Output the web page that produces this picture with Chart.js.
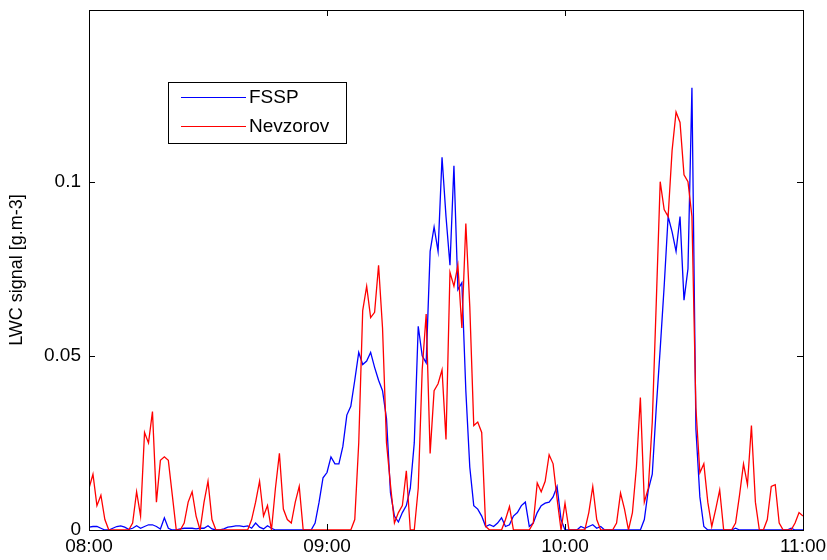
<!DOCTYPE html>
<html lang="en">
<head>
<meta charset="UTF-8">
<script src="https://cdn.jsdelivr.net/npm/chart.js"></script>
<title>LWC signal</title>
<style>
  html, body { margin: 0; padding: 0; background: #fff; }
  #wrap { width: 827px; height: 560px; }
</style>
</head>
<body>
<div id="wrap"><canvas id="myChart" width="827" height="560"></canvas></div>
<script>
// one sample per minute, from 08:00 (t = 0) to 11:00 (t = 180)
const fssp = [
  0.0008, 0.001, 0.001, 0.0005, 0, 0, 0.0005, 0.001, 0.0012, 0.0008,
  0.0002, 0.0005, 0.0012, 0.0005, 0.001, 0.0015, 0.0015, 0.001, 0.0003, 0.0035,
  0.0005, 0, 0, 0.0003, 0.0005, 0.0005, 0.0005, 0.0003, 0.0005, 0.0005,
  0.0012, 0.0003, 0, 0, 0.0003, 0.0008, 0.001, 0.0012, 0.0012, 0.001,
  0.0012, 0.0005, 0.002, 0.0008, 0.0003, 0.0012, 0.0005, 0, 0, 0,
  0, 0, 0, 0, 0, 0, 0, 0.002, 0.008, 0.015,
  0.0165, 0.021, 0.019, 0.019, 0.024, 0.033, 0.0355, 0.043, 0.051, 0.0475,
  0.0485, 0.051, 0.0467, 0.043, 0.04, 0.032, 0.0107, 0.004, 0.0023, 0.005,
  0.007, 0.012, 0.025, 0.0585, 0.05, 0.048, 0.08, 0.087, 0.08, 0.107,
  0.09, 0.076, 0.1046, 0.069, 0.071, 0.04, 0.018, 0.007, 0.006, 0.004,
  0.001, 0.0015, 0.001, 0.002, 0.0035, 0.001, 0.0015, 0.004, 0.005, 0.007,
  0.008, 0.001, 0.002, 0.005, 0.007, 0.0077, 0.008, 0.0095, 0.0125, 0.003,
  0, 0, 0, 0, 0.001, 0.0005, 0.001, 0.0015, 0.0005, 0.001,
  0, 0, 0, 0, 0, 0, 0, 0, 0, 0,
  0.003, 0.0115, 0.016, 0.035, 0.052, 0.07, 0.09, 0.0856, 0.08, 0.09,
  0.066, 0.075, 0.127, 0.029, 0.0095, 0.001, 0, 0, 0, 0,
  0, 0, 0, 0.0005, 0, 0, 0, 0, 0, 0,
  0, 0, 0, 0, 0, 0, 0, 0.0005, 0, 0,
  0
];
const nevzorov = [
  0.012, 0.016, 0.007, 0.01, 0.003, 0, 0, 0, 0, 0,
  0, 0.002, 0.011, 0.004, 0.028, 0.025, 0.034, 0.008, 0.02, 0.021,
  0.02, 0.01, 0, 0, 0.002, 0.008, 0.011, 0.004, 0, 0.008,
  0.014, 0.003, 0, 0, 0, 0, 0, 0, 0, 0,
  0, 0.003, 0.008, 0.014, 0.004, 0.007, 0, 0.012, 0.022, 0.006,
  0.003, 0.002, 0.008, 0.0125, 0, 0, 0, 0, 0, 0,
  0, 0, 0, 0, 0, 0, 0, 0.003, 0.025, 0.063,
  0.07, 0.061, 0.0625, 0.076, 0.058, 0.025, 0.013, 0.002, 0.005, 0.007,
  0.017, 0, 0, 0.012, 0.046, 0.062, 0.022, 0.04, 0.042, 0.046,
  0.026, 0.074, 0.07, 0.076, 0.058, 0.088, 0.064, 0.03, 0.031, 0.028,
  0.001, 0, 0, 0, 0, 0.003, 0.0067, 0, 0, 0,
  0, 0, 0.002, 0.0135, 0.011, 0.014, 0.0216, 0.019, 0.009, 0,
  0.0077, 0, 0, 0, 0, 0, 0.005, 0.0125, 0.003, 0,
  0, 0, 0, 0.002, 0.0106, 0.006, 0, 0.005, 0.018, 0.038,
  0.008, 0.012, 0.031, 0.065, 0.1, 0.092, 0.09, 0.109, 0.12, 0.117,
  0.102, 0.1, 0.09, 0.035, 0.0164, 0.019, 0.008, 0.001, 0.006, 0.0115,
  0, 0, 0, 0.002, 0.01, 0.019, 0.013, 0.03, 0.008, 0,
  0, 0.003, 0.0125, 0.013, 0.002, 0, 0, 0, 0.002, 0.005,
  0.004
];
const xTickValues = [0, 60, 120, 180];
const xTickLabels = ['08:00', '09:00', '10:00', '11:00'];
const yTickValues = [0, 0.05, 0.1];
const yTickLabels = ['0', '0.05', '0.1'];
const seriesNames = ['FSSP', 'Nevzorov'];
const seriesColors = ['#0000ff', '#ff0000'];

const minutes = fssp.map((_, i) => i);
const FONT = "'Liberation Sans', Arial, sans-serif";

// box round the axes, with MATLAB style inward ticks
const framePlugin = {
  id: 'frame',
  afterDraw(chart) {
    const ctx = chart.ctx;
    const a = chart.chartArea;
    const xs = chart.scales.x, ys = chart.scales.y;
    ctx.save();
    ctx.strokeStyle = '#000';
    ctx.lineWidth = 1;
    ctx.strokeRect(Math.round(a.left) + 0.5, Math.round(a.top) + 0.5,
                   Math.round(a.right - a.left), Math.round(a.bottom - a.top));
    ctx.beginPath();
    xTickValues.forEach(v => {
      const px = Math.round(xs.getPixelForValue(v)) + 0.5;
      ctx.moveTo(px, a.bottom); ctx.lineTo(px, a.bottom - 6);
      ctx.moveTo(px, a.top); ctx.lineTo(px, a.top + 6);
    });
    yTickValues.forEach(v => {
      const py = Math.round(ys.getPixelForValue(v)) + 0.5;
      ctx.moveTo(a.left, py); ctx.lineTo(a.left + 6, py);
      ctx.moveTo(a.right, py); ctx.lineTo(a.right - 6, py);
    });
    ctx.stroke();

    // legend
    const lx = 168, ly = 82, lw = 178, lh = 61;
    ctx.fillStyle = '#fff';
    ctx.fillRect(lx, ly, lw, lh);
    ctx.strokeRect(lx + 0.5, ly + 0.5, lw, lh);
    ctx.font = '19px ' + FONT;
    ctx.textBaseline = 'middle';
    chart.data.datasets.forEach((ds, i) => {
      const yy = ly + 15 + i * 29;
      ctx.strokeStyle = ds.borderColor;
      ctx.beginPath();
      ctx.moveTo(181, yy + 0.5); ctx.lineTo(246, yy + 0.5);
      ctx.stroke();
      ctx.fillStyle = '#000';
      ctx.fillText(ds.label, 249, yy + 1);
    });
    ctx.restore();
  }
};

new Chart(document.getElementById('myChart').getContext('2d'), {
  type: 'line',
  data: {
    labels: minutes,
    datasets: [
      { label: seriesNames[0], data: fssp, borderColor: seriesColors[0], order: 2 },
      { label: seriesNames[1], data: nevzorov, borderColor: seriesColors[1], order: 1 }
    ]
  },
  options: {
    responsive: false,
    animation: false,
    layout: { padding: { top: 10, right: 24, left: 0, bottom: 0 } },
    elements: {
      point: { radius: 0 },
      line: { borderWidth: 1.3, tension: 0 }
    },
    plugins: { legend: { display: false }, tooltip: { enabled: false } },
    scales: {
      x: {
        type: 'linear',
        min: 0, max: 180,
        afterBuildTicks: s => { s.ticks = xTickValues.map(v => ({ value: v })); },
        afterFit: s => { s.height = 30; s.paddingLeft = 0; s.paddingRight = 0; },
        grid: { display: false, drawTicks: false },
        border: { display: false },
        ticks: {
          color: '#000', padding: 5, maxRotation: 0,
          font: { family: FONT, size: 19 },
          callback: v => xTickLabels[xTickValues.indexOf(v)]
        }
      },
      y: {
        type: 'linear',
        min: 0, max: 0.1493,
        afterBuildTicks: s => { s.ticks = yTickValues.map(v => ({ value: v })); },
        afterFit: s => { s.width = 89; s.paddingTop = 0; s.paddingBottom = 0; },
        grid: { display: false, drawTicks: false },
        border: { display: false },
        ticks: {
          color: '#000', padding: 8,
          font: { family: FONT, size: 19 },
          callback: v => yTickLabels[yTickValues.indexOf(v)]
        },
        title: {
          display: true, text: 'LWC signal [g.m-3]', color: '#000',
          font: { family: FONT, size: 18 },
          padding: { top: 6, bottom: 0 }
        }
      }
    }
  },
  plugins: [framePlugin]
});
</script>
</body>
</html>
